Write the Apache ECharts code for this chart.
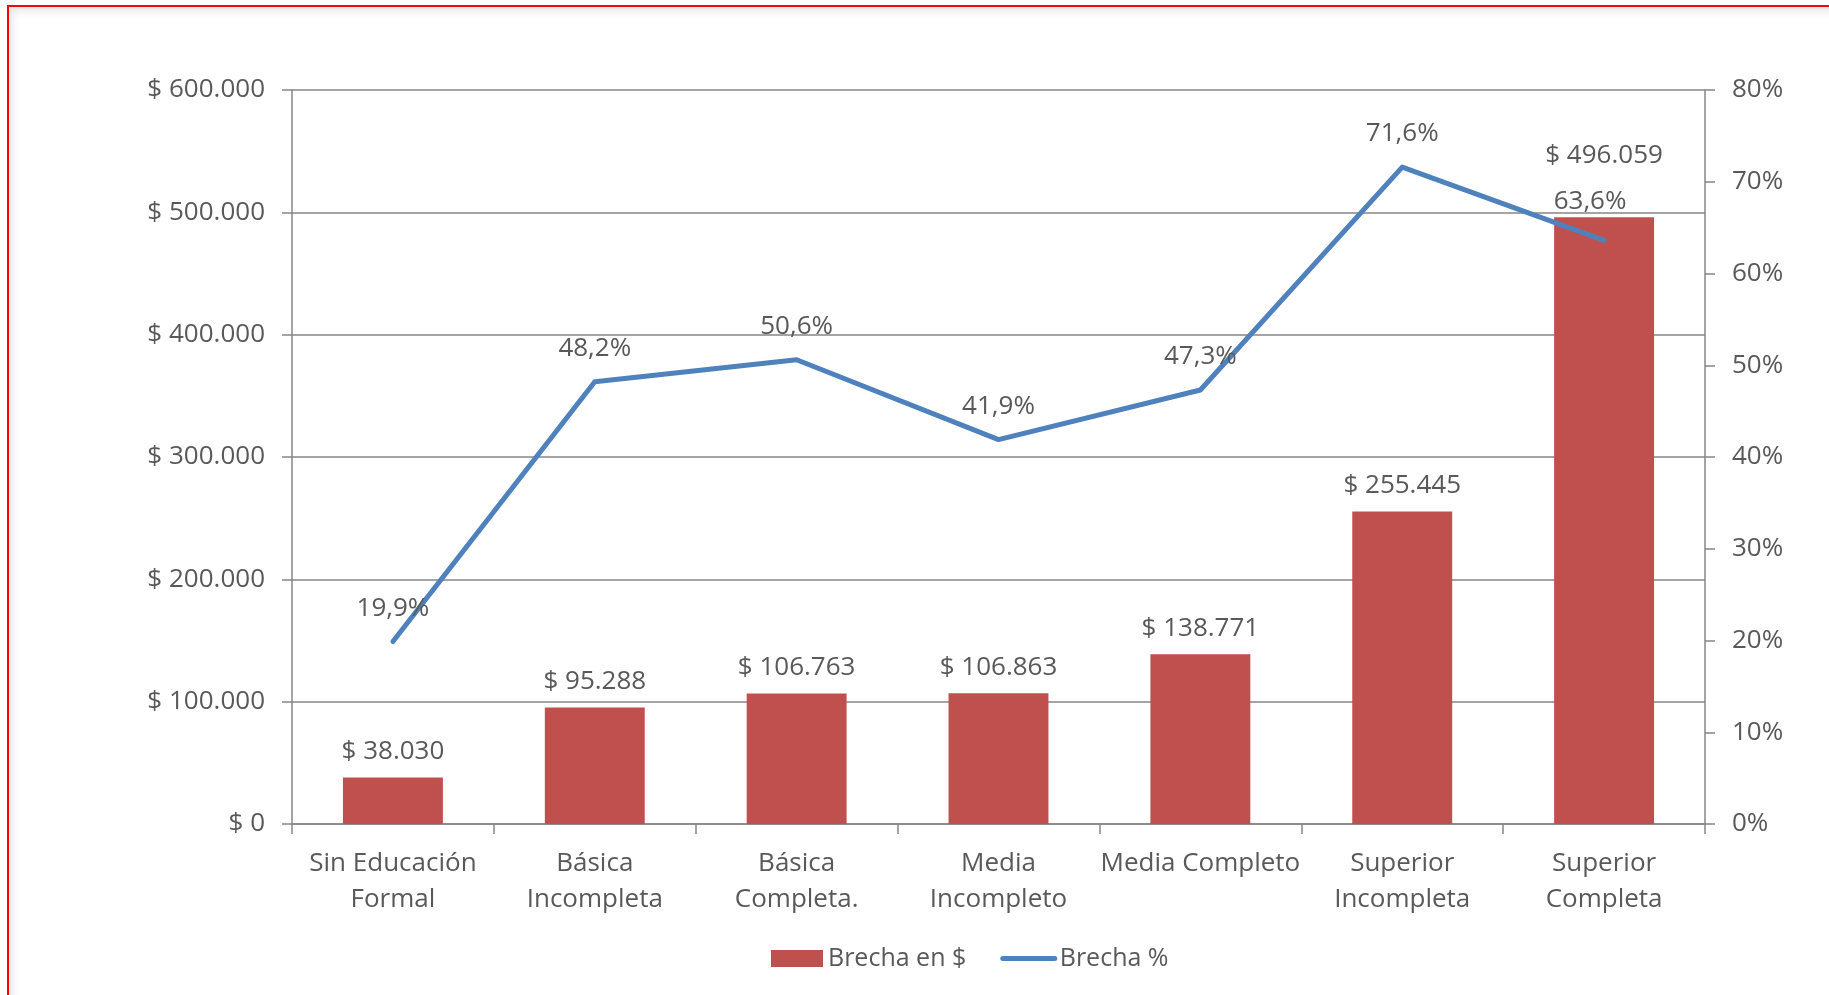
<!DOCTYPE html>
<html>
<head>
<meta charset="utf-8">
<script src="https://cdn.jsdelivr.net/npm/echarts@6.0.0/dist/echarts.min.js"></script>
<style>
  html, body {
    margin: 0;
    padding: 0;
    width: 1829px;
    height: 995px;
    overflow: hidden;
    background: #fff;
  }
  .frame {
    position: absolute;
    left: 7px;
    top: 5px;
    width: 1900px;
    height: 1100px;
    border: 2px solid #ff0000;
    box-shadow: inset 3px 4px 10px rgba(0, 0, 0, 0.10);
  }
  #chart {
    position: absolute;
    left: 0;
    top: 0;
    width: 1829px;
    height: 995px;
  }
</style>
</head>
<body>
<div class="frame"></div>
<div id="chart"></div>
<script>
// datos
const categories = [
  'Sin Educación\nFormal',
  'Básica\nIncompleta',
  'Básica\nCompleta.',
  'Media\nIncompleto',
  'Media Completo',
  'Superior\nIncompleta',
  'Superior\nCompleta'
];
const brechaPesos = [38030, 95288, 106763, 106863, 138771, 255445, 496059];
const brechaPct = [0.199, 0.482, 0.506, 0.419, 0.473, 0.716, 0.636];
const seriesNames = ['Brecha en $', 'Brecha %'];

const FONT = '"Open Sans", "Noto Sans", sans-serif';
const TXT = '#595959';
const GRID = '#868686';
const BLUE = '#4F81BD';
const FS = 26;

// $ 496.059
const pesos = (v) => '$ ' + String(Math.round(v)).replace(/\B(?=(\d{3})+(?!\d))/g, '.');
const pct1 = (v) => (v * 100).toFixed(1).replace('.', ',') + '%';

const last = categories.length - 1;
// en la ultima categoria Excel separo las etiquetas para que no se pisen
const barData = brechaPesos.map((v, i) =>
  i === last ? { value: v, label: { distance: 49 } } : v
);
const lineData = brechaPct.map((v, i) =>
  i === last ? { value: v, label: { distance: 26, offset: [-14, 0] } } : v
);

const myChart = echarts.init(document.getElementById('chart'));

const option = {
  animation: false,
  textStyle: { fontFamily: FONT, color: TXT },
  grid: {
    left: 292,
    right: 124,
    top: 90,
    bottom: 171
  },
  legend: {
    left: 766,
    top: 941,
    itemWidth: 52,
    itemHeight: 17,
    itemGap: 34,
    textStyle: { fontFamily: FONT, fontSize: 25, color: TXT },
    data: [
      { name: seriesNames[0], icon: 'rect' },
      {
        name: seriesNames[1],
        itemStyle: { opacity: 0 },
        lineStyle: { color: BLUE, width: 5, cap: 'round' }
      }
    ]
  },
  xAxis: {
    type: 'category',
    data: categories,
    axisLine: { lineStyle: { color: GRID, width: 1.5 } },
    axisTick: { show: true, length: 10, lineStyle: { color: GRID, width: 1.5 } },
    axisLabel: {
      interval: 0,
      margin: 22,
      fontSize: FS,
      lineHeight: 36,
      color: TXT,
      fontFamily: FONT
    }
  },
  yAxis: [
    {
      type: 'value',
      min: 0,
      max: 600000,
      interval: 100000,
      axisLine: { show: true, lineStyle: { color: GRID, width: 1.5 } },
      axisTick: { show: true, length: 10, lineStyle: { color: GRID, width: 1.5 } },
      splitLine: { lineStyle: { color: GRID, width: 1.5 } },
      axisLabel: {
        margin: 27,
        fontSize: FS,
        color: TXT,
        fontFamily: FONT,
        formatter: pesos
      }
    },
    {
      type: 'value',
      min: 0,
      max: 0.8,
      interval: 0.1,
      position: 'right',
      axisLine: { show: true, lineStyle: { color: GRID, width: 1.5 } },
      axisTick: { show: true, length: 10, lineStyle: { color: GRID, width: 1.5 } },
      splitLine: { show: false },
      axisLabel: {
        margin: 27,
        fontSize: FS,
        color: TXT,
        fontFamily: FONT,
        formatter: (v) => Math.round(v * 100) + '%'
      }
    }
  ],
  series: [
    {
      name: seriesNames[0],
      type: 'bar',
      data: barData,
      barWidth: '49.5%',
      itemStyle: { color: '#C0504D' },
      label: {
        show: true,
        position: 'top',
        distance: 13,
        fontSize: FS,
        color: TXT,
        fontFamily: FONT,
        formatter: (p) => pesos(p.value)
      }
    },
    {
      name: seriesNames[1],
      type: 'line',
      yAxisIndex: 1,
      data: lineData,
      symbol: 'circle',
      symbolSize: 0.1,
      lineStyle: { color: BLUE, width: 5, cap: 'round', join: 'round' },
      itemStyle: { color: BLUE },
      label: {
        show: true,
        position: 'top',
        distance: 20,
        fontSize: FS,
        color: TXT,
        fontFamily: FONT,
        formatter: (p) => pct1(p.value)
      },
      emphasis: { disabled: true },
      z: 3
    }
  ]
};

option && myChart.setOption(option);
</script>
</body>
</html>
